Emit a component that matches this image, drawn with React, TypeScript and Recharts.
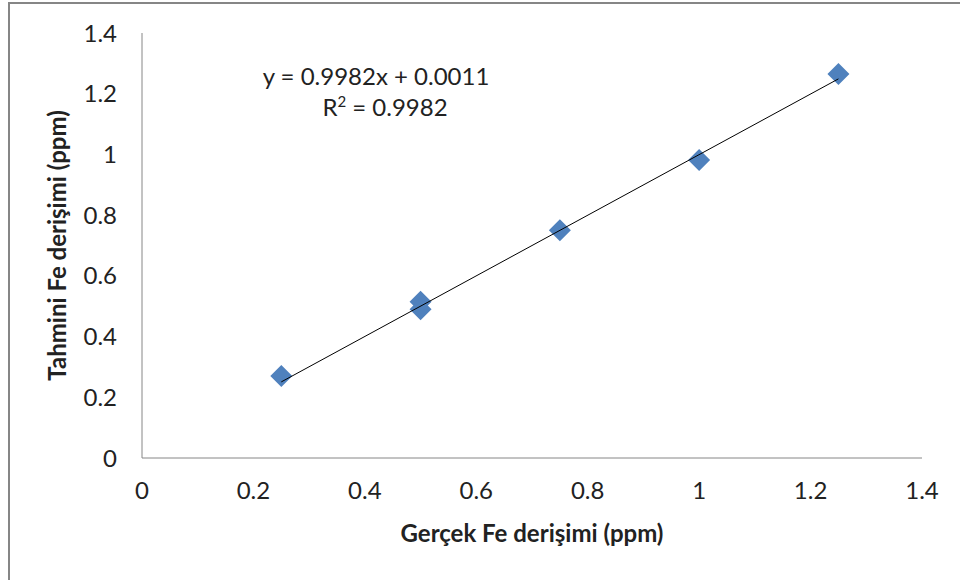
import { ScatterChart, Scatter, XAxis, YAxis } from 'recharts'

// Ölçülen değerler (gerçek vs tahmini Fe, ppm)
const gercekFe = [0.25, 0.5, 0.5, 0.75, 1.0, 1.25]
const tahminiFe = [0.27, 0.515, 0.49, 0.75, 0.982, 1.265]

// Doğrusal eğilim çizgisinin uçları (y = 0.9982x + 0.0011)
const trendX = [0.25, 1.25]
const trendY = [0.2507, 1.2489]

const xTicks = [0, 0.2, 0.4, 0.6, 0.8, 1, 1.2, 1.4]
const yTicks = [0, 0.2, 0.4, 0.6, 0.8, 1, 1.2, 1.4]

const denklem = 'y = 0.9982x + 0.0011'
const r2Deger = '0.9982'

const FONT = 'Lato, "Open Sans", sans-serif'
const AXIS_GRAY = '#868686'
const MARKER = '#4F81BD'
const TEXT = '#222'

const noktalar = gercekFe.map((x, i) => ({ x, y: tahminiFe[i] }))
const trend = trendX.map((x, i) => ({ x, y: trendY[i] }))

// Excel tarzı kare-elmas işaretçi
// eslint-disable-next-line @typescript-eslint/no-explicit-any
function Elmas(props: any) {
  const { cx, cy } = props
  if (cx == null || cy == null) return null
  const r = 11
  return (
    <polygon
      points={`${cx},${cy - r} ${cx + r},${cy} ${cx},${cy + r} ${cx - r},${cy}`}
      fill={MARKER}
    />
  )
}

export default function App() {
  return (
    <div
      style={{
        position: 'fixed',
        left: 0,
        top: 0,
        width: 960,
        height: 580,
        overflow: 'hidden',
        background: '#fff',
        fontFamily: FONT,
      }}
    >
      {/* dış çerçeve (sağ ve alt kenar görüntü dışında) */}
      <div
        style={{
          position: 'absolute',
          left: 8,
          top: 2,
          width: 1100,
          height: 800,
          border: `2px solid ${AXIS_GRAY}`,
        }}
      />

      <ScatterChart
        width={960}
        height={580}
        margin={{ top: 33, right: 38, bottom: 42, left: 0 }}
        style={{ position: 'absolute', left: 0, top: 0 }}
      >
        <XAxis
          type="number"
          dataKey="x"
          domain={[0, 1.4]}
          ticks={xTicks}
          tickLine={false}
          axisLine={{ stroke: AXIS_GRAY }}
          tick={{ fill: TEXT, fontSize: 24, fontFamily: FONT }}
          tickMargin={18}
          height={80}
          allowDataOverflow
          label={{
            value: 'Gerçek Fe derişimi (ppm)',
            position: 'insideBottom',
            offset: -4,
            style: { fill: TEXT, fontSize: 24, fontWeight: 700, fontFamily: FONT },
          }}
        />
        <YAxis
          type="number"
          dataKey="y"
          domain={[0, 1.4]}
          ticks={yTicks}
          tickLine={false}
          axisLine={{ stroke: AXIS_GRAY }}
          tick={{ fill: TEXT, fontSize: 24, fontFamily: FONT }}
          tickMargin={19}
          width={142}
          allowDataOverflow
          label={{
            value: 'Tahmini Fe derişimi (ppm)',
            angle: -90,
            position: 'insideLeft',
            offset: 57,
            style: {
              fill: TEXT,
              fontSize: 24,
              fontWeight: 700,
              fontFamily: FONT,
              textAnchor: 'middle',
            },
          }}
        />
        <Scatter data={noktalar} shape={<Elmas />} isAnimationActive={false} />
        <Scatter
          data={trend}
          line={{ stroke: '#000', strokeWidth: 1 }}
          shape={() => <g />}
          isAnimationActive={false}
        />
      </ScatterChart>

      {/* denklem ve R² etiketi */}
      <div
        style={{
          position: 'absolute',
          left: 376,
          top: 60,
          transform: 'translateX(-50%)',
          textAlign: 'center',
          fontSize: 24,
          lineHeight: '31px',
          color: TEXT,
          whiteSpace: 'nowrap',
        }}
      >
        <div>{denklem}</div>
        <div style={{ marginLeft: 18 }}>
          R<sup style={{ fontSize: 15, lineHeight: 0 }}>2</sup> = {r2Deger}
        </div>
      </div>
    </div>
  )
}
